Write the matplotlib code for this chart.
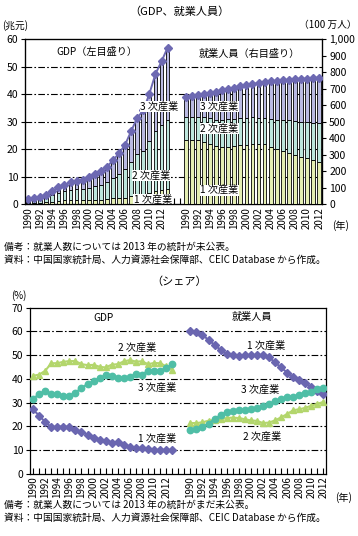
import numpy as np
import matplotlib
matplotlib.use('Agg')
import matplotlib.pyplot as plt

plt.rcParams['font.family'] = ['Noto Sans CJK JP', 'DejaVu Sans']

# --- data -------------------------------------------------------------
gdp_years = list(range(1990, 2014))
emp_years = list(range(1990, 2013))

# GDP total (trillion yuan)
gdp_total = [1.87, 2.18, 2.69, 3.53, 4.82, 6.08, 7.12, 7.90, 8.44, 8.97,
             9.92, 10.97, 12.03, 13.58, 15.99, 18.49, 21.63, 26.58, 31.40,
             34.09, 40.15, 47.31, 51.89, 56.88]
# GDP shares (%)
gdp_p1 = [27.1, 24.5, 21.8, 19.7, 19.8, 19.9, 19.7, 18.3, 17.6, 16.5, 15.1,
          14.4, 13.7, 12.8, 13.4, 12.1, 11.1, 10.8, 10.7, 10.3, 10.1, 10.0,
          10.1, 10.0]
gdp_p2 = [41.3, 41.8, 43.4, 46.6, 46.6, 47.2, 47.5, 47.5, 46.2, 45.8, 45.9,
          45.1, 44.8, 46.0, 46.2, 47.4, 47.9, 47.3, 47.4, 46.2, 46.7, 46.6,
          45.3, 43.9]
gdp_p3 = [31.5, 33.7, 34.8, 33.7, 33.6, 32.9, 32.8, 34.2, 36.2, 37.8, 39.0,
          40.5, 41.5, 41.2, 40.4, 40.5, 41.0, 41.9, 41.8, 43.4, 43.2, 43.4,
          44.6, 46.1]

# employment total (million persons)
emp_total = [647.5, 654.9, 661.5, 668.1, 674.6, 680.7, 689.5, 698.2, 706.4,
             713.9, 720.9, 728.0, 732.8, 737.4, 744.3, 746.5, 749.8, 753.2,
             755.6, 758.3, 761.1, 764.2, 767.0]
# employment shares (%)
emp_p1 = [60.1, 59.7, 58.5, 56.4, 54.3, 52.2, 50.5, 49.9, 49.8, 50.1, 50.0,
          50.0, 50.0, 49.1, 46.9, 44.8, 42.6, 40.8, 39.6, 38.1, 36.7, 34.8,
          33.6]
emp_p2 = [21.4, 21.4, 21.7, 22.4, 22.7, 23.0, 23.5, 23.7, 23.5, 23.0, 22.5,
          22.3, 21.4, 21.6, 22.5, 23.8, 25.2, 26.8, 27.2, 27.8, 28.7, 29.5,
          30.3]
emp_p3 = [18.5, 18.9, 19.8, 21.2, 23.0, 24.8, 26.0, 26.4, 26.7, 26.9, 27.5,
          27.7, 28.6, 29.3, 30.6, 31.4, 32.2, 32.4, 33.2, 34.1, 34.6, 35.7,
          36.1]

C1 = '#e4eeb2'
C2 = '#bde6dc'
C3 = '#babae2'
CLINE = '#6d69b2'
L1 = '#6a66b0'
L2 = '#b3d66c'
L3 = '#4fbea6'

# x positions: GDP on the left, employment on the right after a gap
gx = np.arange(len(gdp_years))
ex = np.arange(len(emp_years)) + 26
grid_ls = (0, (6, 2, 1.5, 2))


def setup_x(ax):
    ax.set_xlim(-0.5, 48.5)
    ticks = np.arange(0, 49)
    labels = []
    for t in ticks:
        if t < 24 and t % 2 == 0:
            labels.append(str(gdp_years[t]))
        elif t >= 26 and (t - 26) % 2 == 0:
            labels.append(str(emp_years[t - 26]))
        else:
            labels.append('')
    ax.set_xticks(ticks)
    ax.set_xticklabels(labels, rotation=90, fontsize=7)
    ax.tick_params(axis='x', direction='in', length=4, width=0.8, pad=2)


def tag(ax, x, y, s):
    ax.text(x, y, s, ha='center', va='center', fontsize=7.3, zorder=6,
            bbox=dict(facecolor='white', edgecolor='none', pad=0.3))


fig = plt.figure(figsize=(3.58, 5.36), dpi=100)

# --- top: stacked bars -------------------------------------------------
ax = fig.add_axes([0.070, 0.619, 0.830, 0.308])
ax2 = ax.twinx()

g1 = np.array(gdp_total) * np.array(gdp_p1) / 100
g2 = np.array(gdp_total) * np.array(gdp_p2) / 100
g3 = np.array(gdp_total) - g1 - g2
e1 = np.array(emp_total) * np.array(emp_p1) / 100
e2 = np.array(emp_total) * np.array(emp_p2) / 100
e3 = np.array(emp_total) - e1 - e2

bw = 0.62
ax.bar(gx, g1, bw, color=C1, edgecolor='black', linewidth=0.6, zorder=3)
ax.bar(gx, g2, bw, bottom=g1, color=C2, edgecolor='black', linewidth=0.6, zorder=3)
ax.bar(gx, g3, bw, bottom=g1 + g2, color=C3, edgecolor='black', linewidth=0.6, zorder=3)
ax.plot(gx, gdp_total, color=CLINE, marker='D', markersize=3.6, lw=1.4, zorder=4)

ax2.bar(ex, e1, bw, color=C1, edgecolor='black', linewidth=0.6, zorder=3)
ax2.bar(ex, e2, bw, bottom=e1, color=C2, edgecolor='black', linewidth=0.6, zorder=3)
ax2.bar(ex, e3, bw, bottom=e1 + e2, color=C3, edgecolor='black', linewidth=0.6, zorder=3)
ax2.plot(ex, emp_total, color=CLINE, marker='D', markersize=3.6, lw=1.4, zorder=4)

ax.set_ylim(0, 60)
ax.set_yticks(range(0, 61, 10))
ax2.set_ylim(0, 1000)
ax2.set_yticks(range(0, 1001, 100))
ax2.set_yticklabels([f'{v:,}' for v in range(0, 1001, 100)])
for yy in range(10, 60, 10):
    ax.axhline(yy, color='black', lw=0.8, ls=grid_ls, zorder=1)
ax.tick_params(axis='y', labelsize=7.5, length=3, width=0.8, pad=2)
ax2.tick_params(axis='y', labelsize=7.5, length=3, width=0.8, pad=2)
setup_x(ax)
for sp in ax.spines.values():
    sp.set_linewidth(0.9)

tag(ax, 21.6, 35.5, '3 次産業')
tag(ax, 20.3, 10.3, '2 次産業')
tag(ax, 20.6, 1.6, '1 次産業')
tag(ax2, 31.5, 590, '3 次産業')
tag(ax2, 31.5, 460, '2 次産業')
tag(ax2, 31.5, 85, '1 次産業')
ax.text(11.3, 55.5, 'GDP（左目盛り）', ha='center', va='center', fontsize=7.3)
ax2.text(36.4, 910, '就業人員（右目盛り）', ha='center', va='center', fontsize=7.3)

fig.text(0.5, 0.978, '（GDP、就業人員）', ha='center', va='center', fontsize=8)
fig.text(0.005, 0.953, '(兆元)', ha='left', va='center', fontsize=7)
fig.text(0.995, 0.953, '（100 万人）', ha='right', va='center', fontsize=7)
fig.text(0.928, 0.580, '(年)', ha='left', va='center', fontsize=7.3)
fig.text(0.012, 0.539, '備考：就業人数については 2013 年の統計が未公表。',
         ha='left', va='center', fontsize=7)
fig.text(0.012, 0.516, '資料：中国国家統計局、人力資源社会保障部、CEIC Database から作成。',
         ha='left', va='center', fontsize=7)

# --- bottom: shares ------------------------------------------------------
bx = fig.add_axes([0.084, 0.116, 0.828, 0.310])
for yy in range(10, 70, 10):
    bx.axhline(yy, color='black', lw=0.8, ls=grid_ls, zorder=1)

bx.plot(gx, gdp_p1, color=L1, marker='D', markersize=4.2, lw=1.5, zorder=3)
bx.plot(gx, gdp_p2, color=L2, marker='^', markersize=4.6, lw=1.5, zorder=3)
bx.plot(gx, gdp_p3, color=L3, marker='o', markersize=4.6, lw=1.5, zorder=3)
bx.plot(ex, emp_p1, color=L1, marker='D', markersize=4.2, lw=1.5, zorder=3)
bx.plot(ex, emp_p2, color=L2, marker='^', markersize=4.6, lw=1.5, zorder=3)
bx.plot(ex, emp_p3, color=L3, marker='o', markersize=4.6, lw=1.5, zorder=3)

bx.set_ylim(0, 70)
bx.set_yticks(range(0, 71, 10))
bx.tick_params(axis='y', labelsize=7.5, length=3, width=0.8, pad=2)
setup_x(bx)
for sp in bx.spines.values():
    sp.set_linewidth(0.9)

bx.text(11.6, 65.7, 'GDP', ha='center', va='center', fontsize=7.3)
bx.text(36.2, 66, '就業人員', ha='center', va='center', fontsize=7.3)
bx.text(17.2, 53, '2 次産業', ha='center', va='center', fontsize=7.3)
bx.text(20.5, 36.3, '3 次産業', ha='center', va='center', fontsize=7.3)
bx.text(20.5, 15, '1 次産業', ha='center', va='center', fontsize=7.3)
bx.text(38.5, 54, '1 次産業', ha='center', va='center', fontsize=7.3)
bx.text(37.5, 35.3, '3 次産業', ha='center', va='center', fontsize=7.3)
bx.text(37.8, 15.6, '2 次産業', ha='center', va='center', fontsize=7.3)

fig.text(0.5, 0.474, '（シェア）', ha='center', va='center', fontsize=8)
fig.text(0.03, 0.448, '(%)', ha='left', va='center', fontsize=7)
fig.text(0.935, 0.071, '(年)', ha='left', va='center', fontsize=7.3)
fig.text(0.012, 0.058, '備考：就業人数については 2013 年の統計がまだ未公表。',
         ha='left', va='center', fontsize=7)
fig.text(0.012, 0.034, '資料：中国国家統計局、人力資源社会保障部、CEIC Database から作成。',
         ha='left', va='center', fontsize=7)

fig.savefig('out.png', dpi=100)
